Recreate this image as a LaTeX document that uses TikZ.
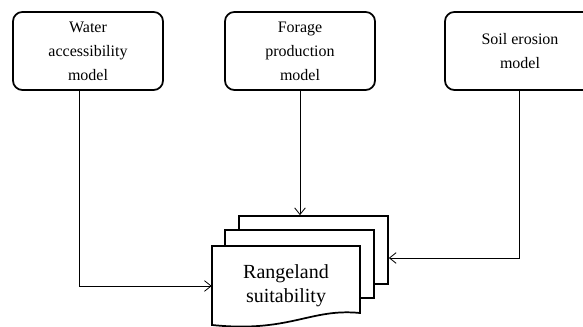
\documentclass[tikz,border=0pt]{standalone}
\usepackage{fontspec}
\setmainfont{Liberation Serif}
\usetikzlibrary{arrows.meta,calc}

\begin{document}
\begin{tikzpicture}
[x=0.75pt,y=-0.75pt,>={Straight Barb[length=5pt,width=8pt]},
model/.style={draw,line width=1.3pt,rounded corners=7pt,align=center,
  minimum width=112.5pt,minimum height=58.5pt,font=\fontsize{12}{18}\selectfont},
sheet/.style={draw,line width=1.3pt,fill=white,minimum width=111.75pt,minimum height=51pt},
link/.style={line width=0.6pt}]
\useasboundingbox (0,0) rectangle (583,327);
\node[model] (water) at (88,51) {Water\\accessibility\\model};
\node[model] (forage) at (300,51) {Forage\\production\\model};
\node[model] (soil) at (520,51) {Soil erosion\\model};

\node[sheet] (back) at (313.5,250) {};
\node[sheet] (middle) at (299.5,264) {};
% front sheet with the wavy bottom
\coordinate (front) at (286,286);
\draw[line width=1.3pt,fill=white] ($(front)+(-74,-40)$) -- ($(front)+(74,-40)$)
  -- ($(front)+(74,27)$)
  .. controls ($(front)+(24,22)$) and ($(front)+(4,47)$)
  .. ($(front)+(-74,39)$) -- cycle;
\node[minimum width=111pt,minimum height=60pt,align=center,
  font=\fontsize{15}{18}\selectfont] (report) at (front) {Rangeland\\suitability};

\draw[link,->] ($(water.south)+(-9,0)$) |- (report.west);
\draw[link,->] (forage.south) -- (forage.south |- back.north);
\draw[link,->] ($(soil.south)+(-1,0)$) |- ($(back.east)+(0,8)$);
\end{tikzpicture}
\end{document}
